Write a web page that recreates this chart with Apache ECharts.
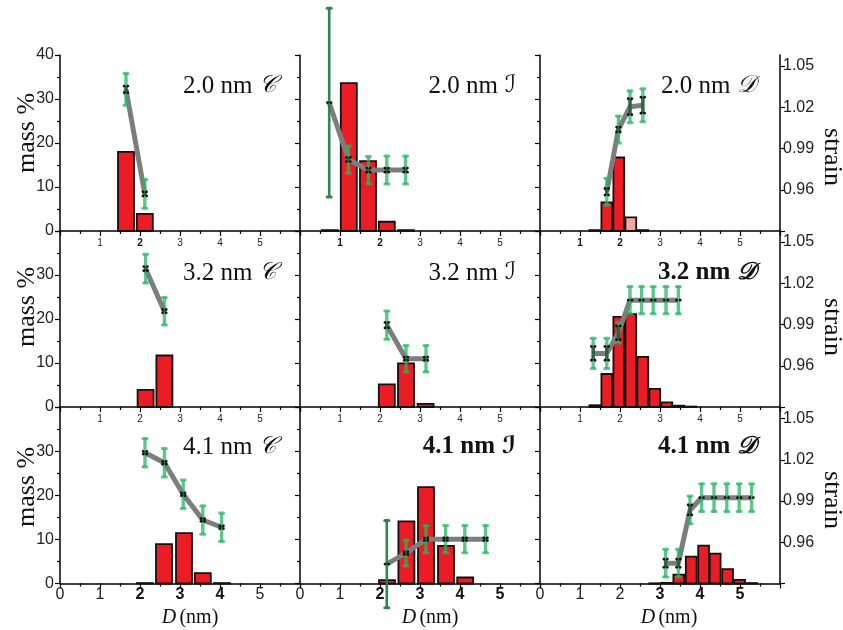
<!DOCTYPE html>
<html><head><meta charset="utf-8">
<script src="https://cdn.jsdelivr.net/npm/echarts@6/dist/echarts.min.js"></script>
<style>html,body{margin:0;padding:0;background:#fff}#c{width:843px;height:630px}</style>
</head><body><div id="c"></div>
<script>
// ---------- tick labels / titles ----------
const sizeLabels = ['2.0 nm', '3.2 nm', '4.1 nm'];
const shapeLabels = ['\u{1D49E}', '\u2110', '\u{1D49F}'];
const massTicks = [0, 10, 20, 30, 40];
const strainTicks = [0.96, 0.99, 1.02, 1.05];
const boldTicks = [[2], [1, 2], [1, 2], [], [], [], [2, 3, 4], [2, 3, 4, 5], [3, 4, 5]];
const boldTitles = [false, false, false, false, false, true, false, true, true];

// ---------- 2.0 nm ----------
const c20BarD = [1.65, 2.12];
const c20Mass = [18.0, 3.9];
const c20D = [1.65, 2.12];
const c20Strain = [1.033, 0.957];
const c20Err = [0.0115, 0.0105];
const c20Inner = [0.0024, 0.0015];

const i20BarD = [0.75, 1.22, 1.70, 2.17, 2.65];
const i20Mass = [0.2, 33.6, 15.9, 2.1, 0.2];
const i20D = [0.73, 1.21, 1.71, 2.17, 2.64];
const i20Strain = [1.0234, 0.982, 0.9743, 0.9743, 0.9743];
const i20Err = [0.0686, 0.0099, 0.0099, 0.0102, 0.0102];
const i20Inner = [0, 0.0015, 0.0015, 0.0015, 0.0015];

const d20BarD = [1.37, 1.67, 1.97, 2.27, 2.57];
const d20Mass = [0.2, 6.5, 16.7, 3.1, 0.2];
const d20Hatch = [0, 0, 0, 1, 0];
const d20D = [1.67, 1.96, 2.25, 2.57];
const d20Strain = [0.9585, 1.0038, 1.0204, 1.0215];
const d20Err = [0.0098, 0.0098, 0.0116, 0.012];
const d20Inner = [0.0024, 0.0018, 0.0058, 0.0058];

// ---------- 3.2 nm ----------
const c32BarD = [2.14, 2.61];
const c32Mass = [3.9, 11.7];
const c32D = [2.14, 2.61];
const c32Strain = [1.0306, 0.9997];
const c32Err = [0.0105, 0.0100];
const c32Inner = [0.0015, 0.0012];

const i32BarD = [2.17, 2.65, 3.14];
const i32Mass = [5.15, 9.9, 0.7];
const i32D = [2.17, 2.65, 3.15];
const i32Strain = [0.9895, 0.9651, 0.9651];
const i32Err = [0.0103, 0.0097, 0.0097];
const i32Inner = [0.002, 0.0012, 0.0012];

const d32BarD = [1.37, 1.67, 1.97, 2.27, 2.57, 2.87, 3.17, 3.47, 3.77];
const d32Mass = [0.4, 7.5, 20.5, 21.1, 11.4, 4.1, 1.05, 0.3, 0.1];
const d32D = [1.33, 1.67, 1.96, 2.25, 2.54, 2.83, 3.15, 3.46];
const d32Strain = [0.969, 0.969, 0.984, 1.0077, 1.0077, 1.0077, 1.0077, 1.0077];
const d32Err = [0.011, 0.011, 0.0075, 0.0099, 0.0099, 0.0099, 0.0099, 0.0099];
const d32Inner = [0.005, 0.005, 0.005, 0, 0, 0, 0, 0];

// ---------- 4.1 nm ----------
const c41BarD = [2.12, 2.60, 3.10, 3.57, 4.05];
const c41Mass = [0.1, 8.95, 11.45, 2.36, 0.1];
const c41D = [2.125, 2.61, 3.08, 3.57, 4.04];
const c41Strain = [1.0251, 1.0178, 0.9949, 0.9762, 0.9709];
const c41Err = [0.0103, 0.0103, 0.0103, 0.0103, 0.0103];
const c41Inner = [0.001, 0.001, 0.001, 0.001, 0.001];

const i41BarD = [2.175, 2.66, 3.15, 3.65, 4.13];
const i41Mass = [0.77, 14.1, 21.9, 8.57, 1.36];
const i41D = [2.17, 2.65, 3.15, 3.64, 4.12, 4.64];
const i41Strain = [0.9441, 0.9521, 0.9622, 0.9622, 0.9622, 0.9622];
const i41Err = [0.0318, 0.0093, 0.0099, 0.0099, 0.0099, 0.0099];
const i41Inner = [0, 0.001, 0.001, 0.001, 0.001, 0.001];

const d41BarD = [2.87, 3.17, 3.47, 3.78, 4.09, 4.38, 4.69, 4.99, 5.29];
const d41Mass = [0.05, 0.15, 2.0, 6.1, 8.6, 6.8, 3.27, 0.84, 0.1];
const d41D = [3.14, 3.46, 3.75, 4.04, 4.35, 4.67, 4.98, 5.29];
const d41Strain = [0.9448, 0.9448, 0.9835, 0.9924, 0.9924, 0.9924, 0.9924, 0.9924];
const d41Err = [0.0101, 0.0101, 0.0101, 0.0101, 0.0101, 0.0101, 0.0101, 0.0101];
const d41Inner = [0.003, 0.003, 0.0036, 0, 0, 0, 0, 0];

// ---------- build ----------
const panels = [
  [c20BarD, c20Mass, null, c20D, c20Strain, c20Err, c20Inner],
  [i20BarD, i20Mass, null, i20D, i20Strain, i20Err, i20Inner],
  [d20BarD, d20Mass, d20Hatch, d20D, d20Strain, d20Err, d20Inner],
  [c32BarD, c32Mass, null, c32D, c32Strain, c32Err, c32Inner],
  [i32BarD, i32Mass, null, i32D, i32Strain, i32Err, i32Inner],
  [d32BarD, d32Mass, null, d32D, d32Strain, d32Err, d32Inner],
  [c41BarD, c41Mass, null, c41D, c41Strain, c41Err, c41Inner],
  [i41BarD, i41Mass, null, i41D, i41Strain, i41Err, i41Inner],
  [d41BarD, d41Mass, null, d41D, d41Strain, d41Err, d41Inner]
];

const colLeft = [60, 300, 540];
const rowTop = [55, 231, 407.5];
const W = 240, H = 176;
const SANS = '"Liberation Sans", Arial, sans-serif';
const SERIF = '"Liberation Serif", "Times New Roman", serif';

function barRender(wNm) {
  return function (params, api) {
    const x = api.value(0), y = api.value(1), h = api.value(2);
    const p0 = api.coord([x - wNm / 2, y]);
    const p1 = api.coord([x + wNm / 2, 0]);
    return {
      type: 'rect',
      shape: { x: p0[0], y: p0[1], width: p1[0] - p0[0], height: Math.max(p1[1] - p0[1], 0.5) },
      style: { fill: h ? '#f4a6a6' : '#ec1c24', stroke: '#111', lineWidth: 1.8 }
    };
  };
}

function errRender(params, api) {
  const x = api.value(0), y = api.value(1), e = api.value(2), inn = api.value(3);
  const pt = api.coord([x, y]);
  const hi = api.coord([x, y + e]);
  const lo = api.coord([x, y - e]);
  const big = e > 0.02;
  const col = big ? 'rgba(38,128,72,0.95)' : 'rgba(36,182,98,0.75)';
  const lw = big ? 2.6 : 3.4;
  const ch = [
    { type: 'line', shape: { x1: pt[0], y1: hi[1], x2: pt[0], y2: lo[1] }, style: { stroke: col, lineWidth: lw } },
    { type: 'line', shape: { x1: pt[0] - 2, y1: hi[1], x2: pt[0] + 2, y2: hi[1] }, style: { stroke: col, lineWidth: 3, lineCap: 'round' } },
    { type: 'line', shape: { x1: pt[0] - 2, y1: lo[1], x2: pt[0] + 2, y2: lo[1] }, style: { stroke: col, lineWidth: 3, lineCap: 'round' } }
  ];
  if (inn > 0) {
    const a = api.coord([x, y + inn]), b = api.coord([x, y - inn]);
    ch.push({ type: 'line', shape: { x1: pt[0], y1: a[1], x2: pt[0], y2: b[1] }, style: { stroke: 'rgba(40,80,55,0.8)', lineWidth: 3.4 } });
    [a[1], b[1]].forEach(yy => {
      ch.push({ type: 'circle', shape: { cx: pt[0] - 1.8, cy: yy, r: 1.4 }, style: { fill: '#111' } });
      ch.push({ type: 'circle', shape: { cx: pt[0] + 1.8, cy: yy, r: 1.4 }, style: { fill: '#111' } });
    });
  } else {
    ch.push({ type: 'circle', shape: { cx: pt[0] - 1.8, cy: pt[1], r: 1.4 }, style: { fill: '#111' } });
    ch.push({ type: 'circle', shape: { cx: pt[0] + 1.8, cy: pt[1], r: 1.4 }, style: { fill: '#111' } });
  }
  return { type: 'group', children: ch };
}

const grid = [], xAxis = [], yAxis = [], series = [], graphic = [];

panels.forEach((p, i) => {
  const r = Math.floor(i / 3), c = i % 3;
  const bottomRow = r === 2;
  grid.push({ left: colLeft[c], top: rowTop[r], width: W, height: H });
  const bold = boldTicks[i];
  xAxis.push({
    gridIndex: i, type: 'value', min: 0, max: 6, interval: 1,
    axisLine: { show: true, onZero: false, lineStyle: { color: '#000', width: 1.5 } },
    axisTick: { show: true, length: 5, lineStyle: { color: '#000', width: 1.2 } },
    minorTick: { show: true, splitNumber: 2, length: 3, lineStyle: { color: '#000', width: 1.2 } },
    splitLine: { show: false },
    axisLabel: {
      show: true, color: '#222', fontFamily: SANS,
      fontSize: bottomRow ? 16 : 10, margin: bottomRow ? 3 : 7,
      showMaxLabel: true, showMinLabel: true,
      formatter: v => {
        if (v > 5.5) return '';
        if (!bottomRow && v < 0.5) return '';
        return bold.indexOf(v) >= 0 ? '{b|' + v + '}' : '{n|' + v + '}';
      },
      rich: {
        b: { fontWeight: 'bold', fontSize: bottomRow ? 16 : 10, fontFamily: SANS, color: '#111' },
        n: { fontSize: bottomRow ? 16 : 10, fontFamily: SANS, color: '#222' }
      }
    }
  });
  yAxis.push({
    gridIndex: i, type: 'value', position: 'left', min: 0, max: 40, interval: 10,
    axisLine: { show: true, onZero: false, lineStyle: { color: '#000', width: 1.5 } },
    axisTick: { show: true, length: 5, lineStyle: { color: '#000', width: 1.2 } },
    minorTick: { show: true, splitNumber: 2, length: 3, lineStyle: { color: '#000', width: 1.2 } },
    splitLine: { show: false },
    axisLabel: {
      show: c === 0, color: '#222', fontFamily: SANS, fontSize: 16, margin: 6,
      formatter: v => (massTicks.indexOf(v) >= 0 && !(r > 0 && v === 40)) ? String(v) : ''
    }
  });
  yAxis.push({
    gridIndex: i, type: 'value', position: 'right', min: 0.93, max: 1.058, interval: 0.03,
    axisLine: { show: c === 2, onZero: false, lineStyle: { color: '#000', width: 1.5 } },
    axisTick: { show: c === 2, length: 5, lineStyle: { color: '#000', width: 1.2 } },
    splitLine: { show: false },
    axisLabel: {
      show: c === 2, color: '#222', fontFamily: SANS, fontSize: 16, margin: 3,
      showMaxLabel: false,
      formatter: v => {
        const m = strainTicks.find(t => Math.abs(t - v) < 1e-4);
        return m !== undefined ? m.toFixed(2) : '';
      }
    }
  });
  const wNm = c === 2 ? 0.27 : 0.4;
  const bars = p[0].map((d, k) => [d, p[1][k], p[2] ? p[2][k] : 0]);
  series.push({
    type: 'custom', coordinateSystem: 'cartesian2d', xAxisIndex: i, yAxisIndex: 2 * i,
    renderItem: barRender(wNm), data: bars, z: 2, clip: false, silent: true
  });
  series.push({
    type: 'line', xAxisIndex: i, yAxisIndex: 2 * i + 1, symbol: 'none',
    data: p[3].map((d, k) => [d, p[4][k]]),
    lineStyle: { color: '#7d7d7d', width: 5 }, z: 3, silent: true, animation: false
  });
  series.push({
    type: 'custom', coordinateSystem: 'cartesian2d', xAxisIndex: i, yAxisIndex: 2 * i + 1,
    renderItem: errRender, clip: false, z: 4, silent: true,
    data: p[3].map((d, k) => [d, p[4][k], p[5][k], p[6][k]])
  });

  // panel title
  const ty = [86, 273, 447][r];
  const fw = boldTitles[i] ? 'bold' : 'normal';
  graphic.push({
    type: 'text', x: colLeft[c] + W - 24, y: ty, z: 10,
    style: {
      text: '{n|' + sizeLabels[r] + '}  {s|' + shapeLabels[c] + '}',
      align: 'right', verticalAlign: 'middle',
      rich: {
        n: { fontFamily: SERIF, fontSize: 25, fontWeight: fw, fill: '#111' },
        s: { fontFamily: '"DejaVu Serif", "DejaVu Sans", serif', fontSize: 24, fontWeight: fw, fontStyle: 'italic', fill: '#111' }
      }
    }
  });
});

// axis titles
[133, 307, 487].forEach(yc => graphic.push({
  type: 'text', x: 27, y: yc, rotation: Math.PI / 2,
  style: { text: 'mass %', font: '26px ' + SERIF, fill: '#111', align: 'center', verticalAlign: 'middle' }
}));
[157, 327, 500].forEach(yc => graphic.push({
  type: 'text', x: 832, y: yc, rotation: -Math.PI / 2,
  style: { text: 'strain', font: '26px ' + SERIF, fill: '#111', align: 'center', verticalAlign: 'middle' }
}));
[190, 430, 669].forEach(xc => graphic.push({
  type: 'text', x: xc, y: 618,
  style: {
    text: '{i|D} {n|(nm)}', align: 'center', verticalAlign: 'middle',
    rich: {
      i: { fontFamily: SERIF, fontSize: 20, fontStyle: 'italic', fill: '#111' },
      n: { fontFamily: SERIF, fontSize: 20, fill: '#111' }
    }
  }
}));

const chart = echarts.init(document.getElementById('c'), null, { renderer: 'canvas' });
chart.setOption({ animation: false, backgroundColor: '#fff', grid, xAxis, yAxis, series, graphic });
</script>
</body></html>
